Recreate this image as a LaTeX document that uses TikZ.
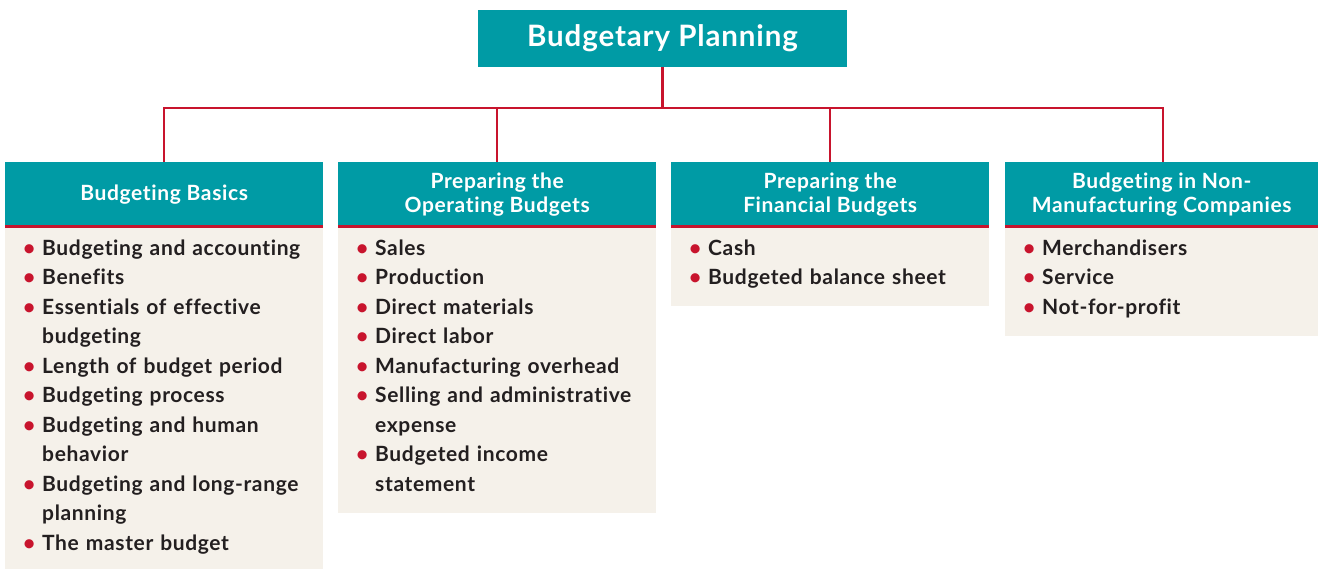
\documentclass[tikz,border=0pt]{standalone}
\usepackage{fontspec}
\setmainfont{Lato}[LetterSpace=3, Ligatures={NoCommon}]
\definecolor{bteal}{RGB}{0,155,165}
\definecolor{bred}{RGB}{200,20,45}
\definecolor{bbeige}{RGB}{245,241,234}
\definecolor{btext}{RGB}{35,31,32}
\newcommand{\bitem}[1]{\noindent\hangindent=19pt\hangafter=1\makebox[19pt][l]{\textcolor{bred}{\textbullet}}#1\par}
\tikzset{
  titlebox/.style={fill=bteal, text=white, minimum width=369pt, minimum height=57pt, inner sep=0pt,
    font=\fontsize{29.5}{32}\selectfont\bfseries},
  headbox/.style={fill=bteal, text=white, minimum height=64pt, inner sep=0pt, align=center, anchor=north west,
    font=\fontsize{21}{24}\selectfont\bfseries},
  bodybox/.style={fill=bbeige, inner sep=0pt, anchor=north west},
  listtext/.style={anchor=north west, inner sep=0pt, text width=300pt, align=left, text=btext,
    font=\fontsize{21}{29.5}\selectfont\bfseries},
  conn/.style={draw=bred, line width=2.5pt},
  redrule/.style={draw=bred, line width=2.5pt}
}
\begin{document}
\begin{tikzpicture}[x=1pt,y=-1pt]
\useasboundingbox (0,0) rectangle (1318,569);
\node[titlebox] (top) at (662.5,38.5) {Budgetary Planning};
% headers
\node[headbox, minimum width=318pt] (h1) at (5,162) {Budgeting Basics};
\node[headbox, minimum width=318pt] (h2) at (338,162) {Preparing the\\Operating Budgets};
\node[headbox, minimum width=318pt] (h3) at (671,162) {Preparing the\\Financial Budgets};
\node[headbox, minimum width=313pt] (h4) at (1005,162) {Budgeting in Non-\\Manufacturing Companies};
% bodies
\node[bodybox, minimum width=318pt, minimum height=342pt] (b1) at (h1.south west) {};
\node[bodybox, minimum width=318pt, minimum height=286pt] (b2) at (h2.south west) {};
\node[bodybox, minimum width=318pt, minimum height=79pt] (b3) at (h3.south west) {};
\node[bodybox, minimum width=313pt, minimum height=109pt] (b4) at (h4.south west) {};
% red rules
\foreach \i in {1,2,3,4} { \draw[redrule] (h\i.south west) -- (h\i.south east); }
% connectors
\coordinate (j) at (662.5,108);
\draw[conn] (top.south) -- (j);
\draw[conn] (j) -| (h1.north);
\draw[conn] (j) -| (h2.north);
\draw[conn] (j) -| (h3.north);
\draw[conn] (j) -| ([xshift=1.5pt]h4.north);
% lists
\node[listtext] (l1) at ([xshift=18pt,yshift=-13pt]b1.north west) {%
\bitem{Budgeting and accounting}
\bitem{Benefits}
\bitem{Essentials of effective\newline budgeting}
\bitem{Length of budget period}
\bitem{Budgeting process}
\bitem{Budgeting and human\newline behavior}
\bitem{Budgeting and long-range\newline planning}
\bitem{The master budget}};
\node[listtext] (l2) at ([xshift=18pt,yshift=-13pt]b2.north west) {%
\bitem{Sales}
\bitem{Production}
\bitem{Direct materials}
\bitem{Direct labor}
\bitem{Manufacturing overhead}
\bitem{Selling and administrative\newline expense}
\bitem{Budgeted income\newline statement}};
\node[listtext] (l3) at ([xshift=18pt,yshift=-13pt]b3.north west) {%
\bitem{Cash}
\bitem{Budgeted balance sheet}};
\node[listtext] (l4) at ([xshift=18pt,yshift=-13pt]b4.north west) {%
\bitem{Merchandisers}
\bitem{Service}
\bitem{Not-for-profit}};
\end{tikzpicture}
\end{document}
